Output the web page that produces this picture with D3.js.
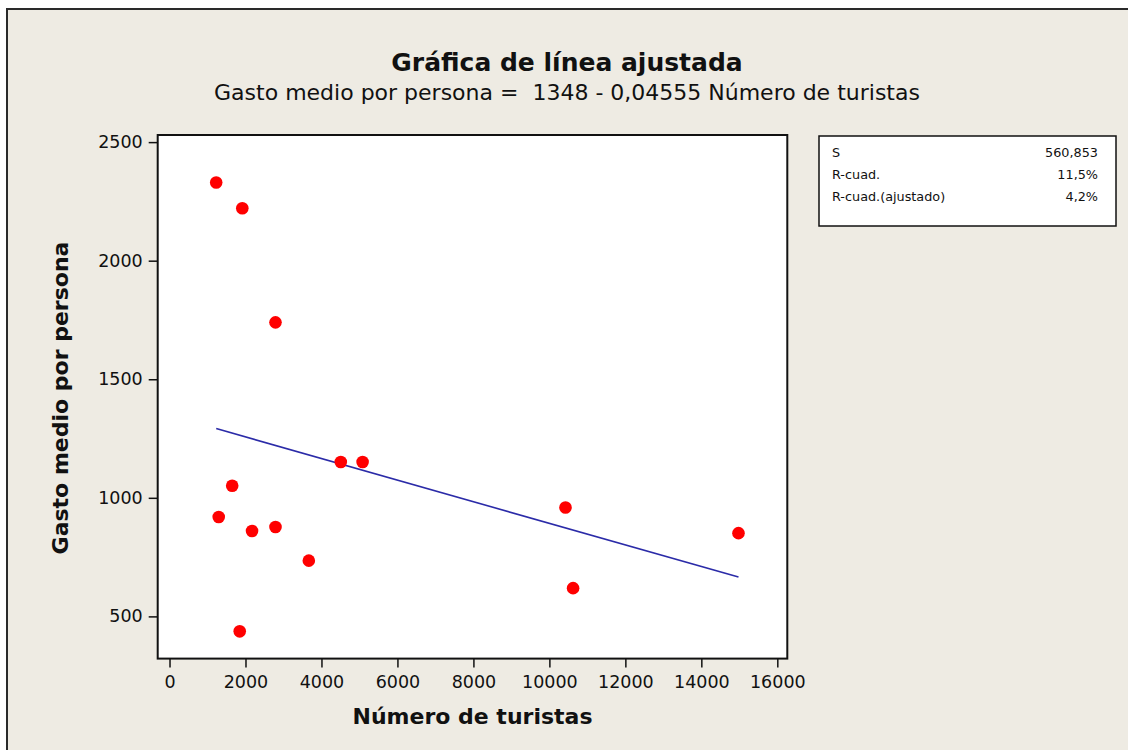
<!DOCTYPE html>
<html>
<head>
<meta charset="utf-8">
<script src="https://cdn.jsdelivr.net/npm/d3@7"></script>
<style>
  body { margin: 0; background: #fff; }
  text { font-family: "DejaVu Sans", sans-serif; fill: #111; }
</style>
</head>
<body>
<svg id="chart" width="1133" height="755"></svg>
<script>
// data
const turistas = [1229, 1916, 2790, 4509, 5083, 1650, 1295, 2172, 2790, 3667, 1848, 10424, 10624, 14978];
const gasto = [2330, 2221, 1740, 1151, 1151, 1051, 919, 860, 877, 735, 437, 959, 619, 851];

// fitted line: Gasto = b0 + b1 * Turistas
const b0 = 1348;
const b1 = -0.04555;

const xTicks = [0, 2000, 4000, 6000, 8000, 10000, 12000, 14000, 16000];
const yTicks = [500, 1000, 1500, 2000, 2500];

const statLabels = ['S', 'R-cuad.', 'R-cuad.(ajustado)'];
const statValues = ['560,853', '11,5%', '4,2%'];

const svg = d3.select('#chart');

// beige panel with dark top/left edge
svg.append('rect').attr('x', 7).attr('y', 9).attr('width', 1121).attr('height', 741)
  .attr('fill', '#eeebe3');
svg.append('path').attr('d', 'M7,750V9H1128').attr('fill', 'none')
  .attr('stroke', '#2a2a2a').attr('stroke-width', 2);

const plot = { left: 157.7, right: 787.3, top: 135, bottom: 658.6 };

let x = d3.scaleLinear().domain([-311, 16263]).range([plot.left, plot.right]);
let y = d3.scaleLinear().domain([322, 2530]).range([plot.bottom, plot.top]);

svg.append('rect')
  .attr('x', plot.left).attr('y', plot.top)
  .attr('width', plot.right - plot.left).attr('height', plot.bottom - plot.top)
  .attr('fill', '#fff').attr('stroke', '#111').attr('stroke-width', 2);

// axes
let xAxis = svg.append('g')
  .attr('transform', `translate(0,${plot.bottom})`)
  .call(d3.axisBottom(x).tickValues(xTicks).tickSize(9).tickSizeOuter(0).tickPadding(8).tickFormat(d3.format('d')));
let yAxis = svg.append('g')
  .attr('transform', `translate(${plot.left},0)`)
  .call(d3.axisLeft(y).tickValues(yTicks).tickSize(9).tickSizeOuter(0).tickPadding(6).tickFormat(d3.format('d')));

[xAxis, yAxis].forEach((g) => {
  g.select('.domain').remove();
  g.selectAll('line').attr('stroke', '#111').attr('stroke-width', 1.5);
  g.selectAll('text').attr('font-size', 17.5).attr('font-family', '"DejaVu Sans", sans-serif').attr('fill', '#111');
});

// fitted line
let xs = d3.extent(turistas);
svg.append('line')
  .attr('x1', x(xs[0])).attr('y1', y(b0 + b1 * xs[0]))
  .attr('x2', x(xs[1])).attr('y2', y(b0 + b1 * xs[1]))
  .attr('stroke', '#2b2ba8').attr('stroke-width', 1.6);

// points
svg.append('g').selectAll('circle')
  .data(turistas.map((t, i) => ({ t, g: gasto[i] })))
  .join('circle')
  .attr('cx', (d) => x(d.t))
  .attr('cy', (d) => y(d.g))
  .attr('r', 6.3)
  .attr('fill', '#f00');

// titles
svg.append('text').attr('x', 567).attr('y', 71).attr('text-anchor', 'middle')
  .attr('font-size', 25).attr('font-weight', 'bold')
  .text('Gráfica de línea ajustada');
svg.append('text').attr('x', 567).attr('y', 100).attr('text-anchor', 'middle')
  .attr('font-size', 22).attr('xml:space', 'preserve')
  .text('Gasto medio por persona =  1348 - 0,04555 Número de turistas');

svg.append('text').attr('x', (plot.left + plot.right) / 2).attr('y', 724).attr('text-anchor', 'middle')
  .attr('font-size', 22).attr('font-weight', 'bold')
  .text('Número de turistas');
svg.append('text')
  .attr('transform', `translate(68,398) rotate(-90)`)
  .attr('text-anchor', 'middle')
  .attr('font-size', 22).attr('font-weight', 'bold')
  .text('Gasto medio por persona');

// stats box
svg.append('rect').attr('x', 819).attr('y', 136).attr('width', 297).attr('height', 90)
  .attr('fill', '#fff').attr('stroke', '#111').attr('stroke-width', 1.5);
statLabels.forEach((label, i) => {
  svg.append('text').attr('x', 832).attr('y', 157 + i * 22)
    .attr('font-size', 12.8).text(label);
  svg.append('text').attr('x', 1098).attr('y', 157 + i * 22)
    .attr('font-size', 12.8).attr('text-anchor', 'end').text(statValues[i]);
});
</script>
</body>
</html>
